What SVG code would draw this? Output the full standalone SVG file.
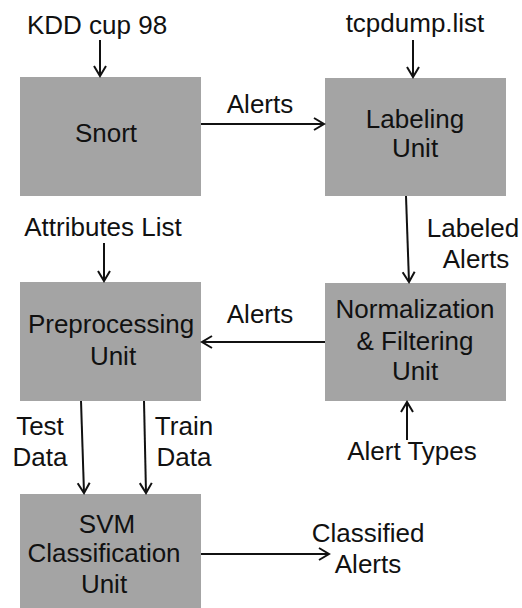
<svg xmlns="http://www.w3.org/2000/svg" width="522" height="608" viewBox="0 0 522 608">
<style>
.box{fill:#a4a4a4;}
.t{font-family:"Liberation Sans",Arial,sans-serif;font-size:26px;fill:#111111;text-anchor:middle;}
.c{stroke:#111111;stroke-width:2;fill:none;marker-end:url(#ah);}
</style>
<defs>
<marker id="ah" markerUnits="userSpaceOnUse" viewBox="-12 -8 14 16" markerWidth="14" markerHeight="16" refX="0" refY="0" orient="auto">
<path d="M-10,-6 L0,0 L-10,6" fill="none" stroke="#111111" stroke-width="2"/>
</marker>
</defs>
<rect width="522" height="608" fill="#ffffff"/>
<g id="snort"><rect class="box" x="20" y="77" width="181" height="119"/><text class="t" x="106" y="142">Snort</text></g>
<g id="labeling"><rect class="box" x="325" y="78" width="181" height="118"/><text class="t" x="415" y="128">Labeling</text><text class="t" x="415" y="157">Unit</text></g>
<g id="preprocessing"><rect class="box" x="20" y="282" width="181" height="119"/><text class="t" x="111" y="333">Preprocessing</text><text class="t" x="113" y="365">Unit</text></g>
<g id="normalization"><rect class="box" x="325" y="283" width="181" height="118"/><text class="t" x="415" y="318">Normalization</text><text class="t" x="415" y="350">&amp; Filtering</text><text class="t" x="415" y="380">Unit</text></g>
<g id="svm"><rect class="box" x="20" y="494" width="181" height="114"/><text class="t" x="107" y="533">SVM</text><text class="t" x="104" y="562">Classification</text><text class="t" x="104" y="593">Unit</text></g>
<g id="inputs">
<text class="t" x="97" y="34">KDD cup 98</text>
<text class="t" x="415" y="32">tcpdump.list</text>
<text class="t" x="103" y="236">Attributes List</text>
<text class="t" x="412" y="460">Alert Types</text>
<text class="t" x="368" y="542">Classified</text>
<text class="t" x="368" y="573">Alerts</text>
</g>
<g id="connectors">
<line class="c" x1="100" y1="40" x2="100" y2="76"/>
<line class="c" x1="413" y1="40" x2="413" y2="77"/>
<line class="c" x1="201" y1="124" x2="324" y2="124"/>
<text class="t" x="260" y="113">Alerts</text>
<line class="c" x1="406" y1="196" x2="409" y2="282"/>
<text class="t" x="473" y="237">Labeled</text>
<text class="t" x="476" y="268">Alerts</text>
<line class="c" x1="104" y1="243" x2="104" y2="281"/>
<line class="c" x1="325" y1="342" x2="202" y2="342"/>
<text class="t" x="260" y="323">Alerts</text>
<line class="c" x1="407" y1="440" x2="407" y2="402"/>
<line class="c" x1="81" y1="401" x2="84" y2="493"/>
<text class="t" x="40" y="435">Test</text>
<text class="t" x="40" y="466">Data</text>
<line class="c" x1="144" y1="401" x2="146" y2="493"/>
<text class="t" x="184" y="435">Train</text>
<text class="t" x="184" y="466">Data</text>
<line class="c" x1="201" y1="554" x2="329" y2="554"/>
</g>
</svg>
